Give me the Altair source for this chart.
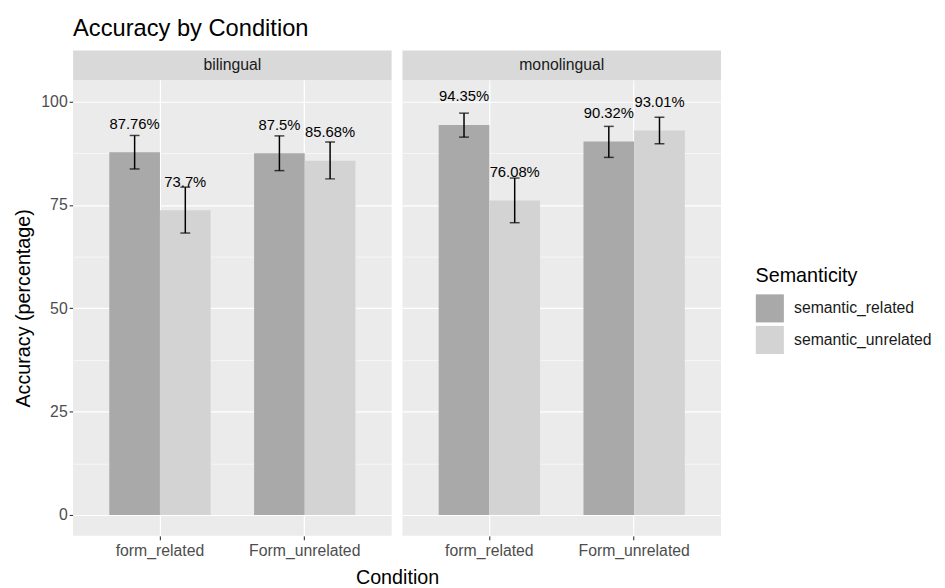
import altair as alt
import pandas as pd

languages = ["bilingual"] * 4 + ["monolingual"] * 4
conditions = ["form_related", "form_related", "Form_unrelated", "Form_unrelated"] * 2
semanticity = ["semantic_related", "semantic_unrelated"] * 4
accuracy = [87.76, 73.7, 87.5, 85.68, 94.35, 76.08, 90.32, 93.01]
lower = [83.7, 68.2, 83.3, 81.3, 91.4, 70.7, 86.5, 89.8]
upper = [91.8, 79.3, 91.7, 90.2, 97.2, 81.5, 94.0, 96.2]
labels = ["87.76%", "73.7%", "87.5%", "85.68%", "94.35%", "76.08%", "90.32%", "93.01%"]

lang_order = ["bilingual", "monolingual"]
cond_order = ["form_related", "Form_unrelated"]
sem_order = ["semantic_related", "semantic_unrelated"]
sem_colors = ["#A9A9A9", "#D3D3D3"]
y_ticks = [0, 12.5, 25, 37.5, 50, 62.5, 75, 87.5, 100]

df = pd.DataFrame(dict(language=languages, condition=conditions, semanticity=semanticity,
                       accuracy=accuracy, lower=lower, upper=upper, label=labels))

PW, PH = 323, 462
YT = "Accuracy (percentage)"

x = alt.X("condition:N", sort=cond_order, title=None,
          scale=alt.Scale(paddingInner=0.3, paddingOuter=0.25),
          axis=alt.Axis(grid=True, gridColor="white", gridWidth=1.2, bandPosition=0.5,
                        domain=False, tickColor="#333333", tickSize=4, tickWidth=1.1,
                        labelColor="#4D4D4D", labelFontSize=16, labelPadding=3, labelAngle=0))
xo = alt.XOffset("semanticity:N", sort=sem_order, scale=alt.Scale(paddingInner=0, paddingOuter=0))

yaxis = alt.Axis(values=y_ticks, grid=True, gridColor="white",
                 gridWidth={"condition": {"test": "datum.value % 25 != 0", "value": 0.6}, "value": 1.2},
                 tickOpacity={"condition": {"test": "datum.value % 25 != 0", "value": 0}, "value": 1},
                 labelExpr="datum.value % 25 == 0 ? format(datum.value, 'd') : ''",
                 domain=False, tickColor="#333333", tickSize=4, tickWidth=1.1,
                 labelColor="#4D4D4D", labelFontSize=16, labelPadding=2,
                 titleFontSize=20, titleColor="black", titleFontWeight="normal", titlePadding=8)
yscale = alt.Scale(domain=[-5.01, 105.2], nice=False)

one_row = "datum.condition == 'form_related' && datum.semanticity == 'semantic_related'"

strip_rect = alt.Chart().transform_filter(one_row).mark_rect(color="#D9D9D9").encode(
    x=alt.value(0), x2=alt.value(PW), y=alt.value(-30), y2=alt.value(0))
strip_text = alt.Chart().transform_filter(one_row).mark_text(fontSize=16, color="#1A1A1A", baseline="middle").encode(
    x=alt.value(PW / 2), y=alt.value(-15), text="language:N")

bars = alt.Chart().mark_bar().encode(
    x=x, xOffset=xo,
    y=alt.Y("accuracy:Q", title=YT, scale=yscale, axis=yaxis),
    color=alt.Color("semanticity:N", sort=sem_order,
                    scale=alt.Scale(domain=sem_order, range=sem_colors),
                    legend=alt.Legend(orient="none", legendX=692, legendY=189, title="Semanticity",
                                      titleFontSize=20, titleFontWeight="normal", titleColor="black",
                                      titlePadding=8, labelFontSize=16, labelColor="#1A1A1A",
                                      symbolType="square", symbolSize=810, symbolStrokeWidth=0,
                                      symbolOpacity=1, rowPadding=3, labelOffset=10)))

rule = alt.Chart().mark_rule(color="black", strokeWidth=1.5).encode(
    x=x, xOffset=xo, y=alt.Y("lower:Q", title=YT), y2="upper:Q")
cap_lo = alt.Chart().mark_tick(color="black", thickness=1.5, size=10).encode(
    x=x, xOffset=xo, y=alt.Y("lower:Q", title=YT))
cap_hi = alt.Chart().mark_tick(color="black", thickness=1.5, size=10).encode(
    x=x, xOffset=xo, y=alt.Y("upper:Q", title=YT))
text = alt.Chart().mark_text(dy=-29, fontSize=15, color="black", baseline="middle").encode(
    x=x, xOffset=xo, y=alt.Y("accuracy:Q", title=YT), text="label:N")

layer = alt.layer(strip_rect, strip_text, bars, rule, cap_lo, cap_hi, text, data=df).properties(
    width=PW, height=PH)

chart = layer.facet(
    column=alt.Column("language:N", sort=lang_order, title="Condition",
                      header=alt.Header(labels=False, titleOrient="bottom", titleFontSize=20,
                                        titleColor="black", titleFontWeight="normal", titlePadding=0)),
    spacing=11,
).properties(
    title=alt.TitleParams("Accuracy by Condition", anchor="start", frame="group", fontSize=24,
                          fontWeight="normal", color="black", offset=10),
    padding={"left": 5, "top": 5, "right": 5, "bottom": 0},
).configure(font="Liberation Sans").configure_view(fill="#EBEBEB", strokeWidth=0)

chart.save("out.html", embed_options={"renderer": "svg", "actions": False})
